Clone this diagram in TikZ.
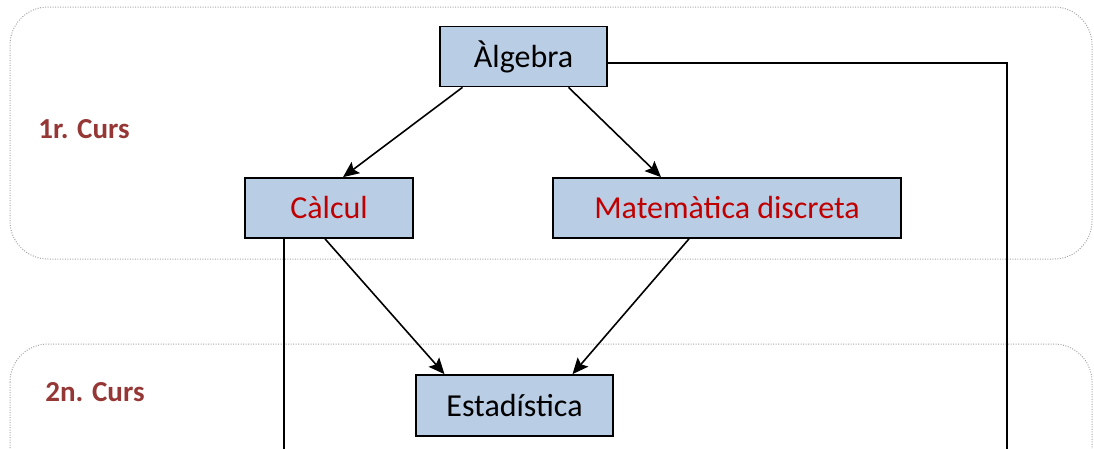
\documentclass[tikz,border=0pt]{standalone}
\usepackage{fontspec}
\setmainfont{Carlito}
\usetikzlibrary{arrows.meta}
\definecolor{boxfill}{HTML}{B9CDE5}
\definecolor{redtext}{HTML}{C00000}
\definecolor{labred}{HTML}{953735}
\definecolor{panelgray}{HTML}{A6A6A6}
\begin{document}
\begin{tikzpicture}[x=1pt,y=-1pt,
  panel/.style={draw=panelgray,line width=1pt,dash pattern=on 1pt off 1.5pt,rounded corners=38pt},
  course/.style={draw=black,line width=1.7pt,fill=boxfill,inner sep=0pt,minimum height=60pt,
     font=\fontsize{32}{36}\selectfont},
  lab/.style={text=labred,font=\fontsize{29}{34}\selectfont\bfseries},
  conn/.style={draw=black,line width=1.6pt},
  arr/.style={conn,-{Stealth[length=16pt,width=14pt,inset=3pt]}}]
\useasboundingbox (0,0) rectangle (1094,448);
\clip (0,0) rectangle (1094,448);
% panels
\draw[panel] (10,7) rectangle (1092,259);
\draw[panel] (10,344) rectangle (1092,600);
% labels
\node[lab] (l1) at (84,129) {1r. Curs};
\node[lab] (l2) at (95,392) {2n. Curs};
% boxes
\node[course,minimum width=167pt] (alg) at (523.5,56.5) {Àlgebra};
\node[course,minimum width=168pt,text=redtext] (calc) at (329,208) {Càlcul};
\node[course,minimum width=348pt,text=redtext] (mat) at (727,208) {Matemàtica discreta};
\node[course,minimum width=197pt,minimum height=61pt] (est) at (514.5,405.5) {Estadística};
% free ends
\coordinate (cornerR) at (1007,63);
\coordinate (endR) at (1007,460);
\coordinate (endL) at (284,460);
% connectors
\draw[arr] ([xshift=-61pt]alg.south) -- ([xshift=14pt]calc.north);
\draw[arr] ([xshift=45pt]alg.south) -- ([xshift=-66pt]mat.north);
\draw[arr] ([xshift=-4pt]calc.south) -- ([xshift=-70pt]est.north);
\draw[arr] ([xshift=-38pt]mat.south) -- ([xshift=58pt]est.north);
\draw[conn] ([yshift=-6.5pt]alg.east) -- (cornerR) -- (endR);
\draw[conn] ([xshift=-45pt]calc.south) -- (endL);
\end{tikzpicture}
\end{document}
